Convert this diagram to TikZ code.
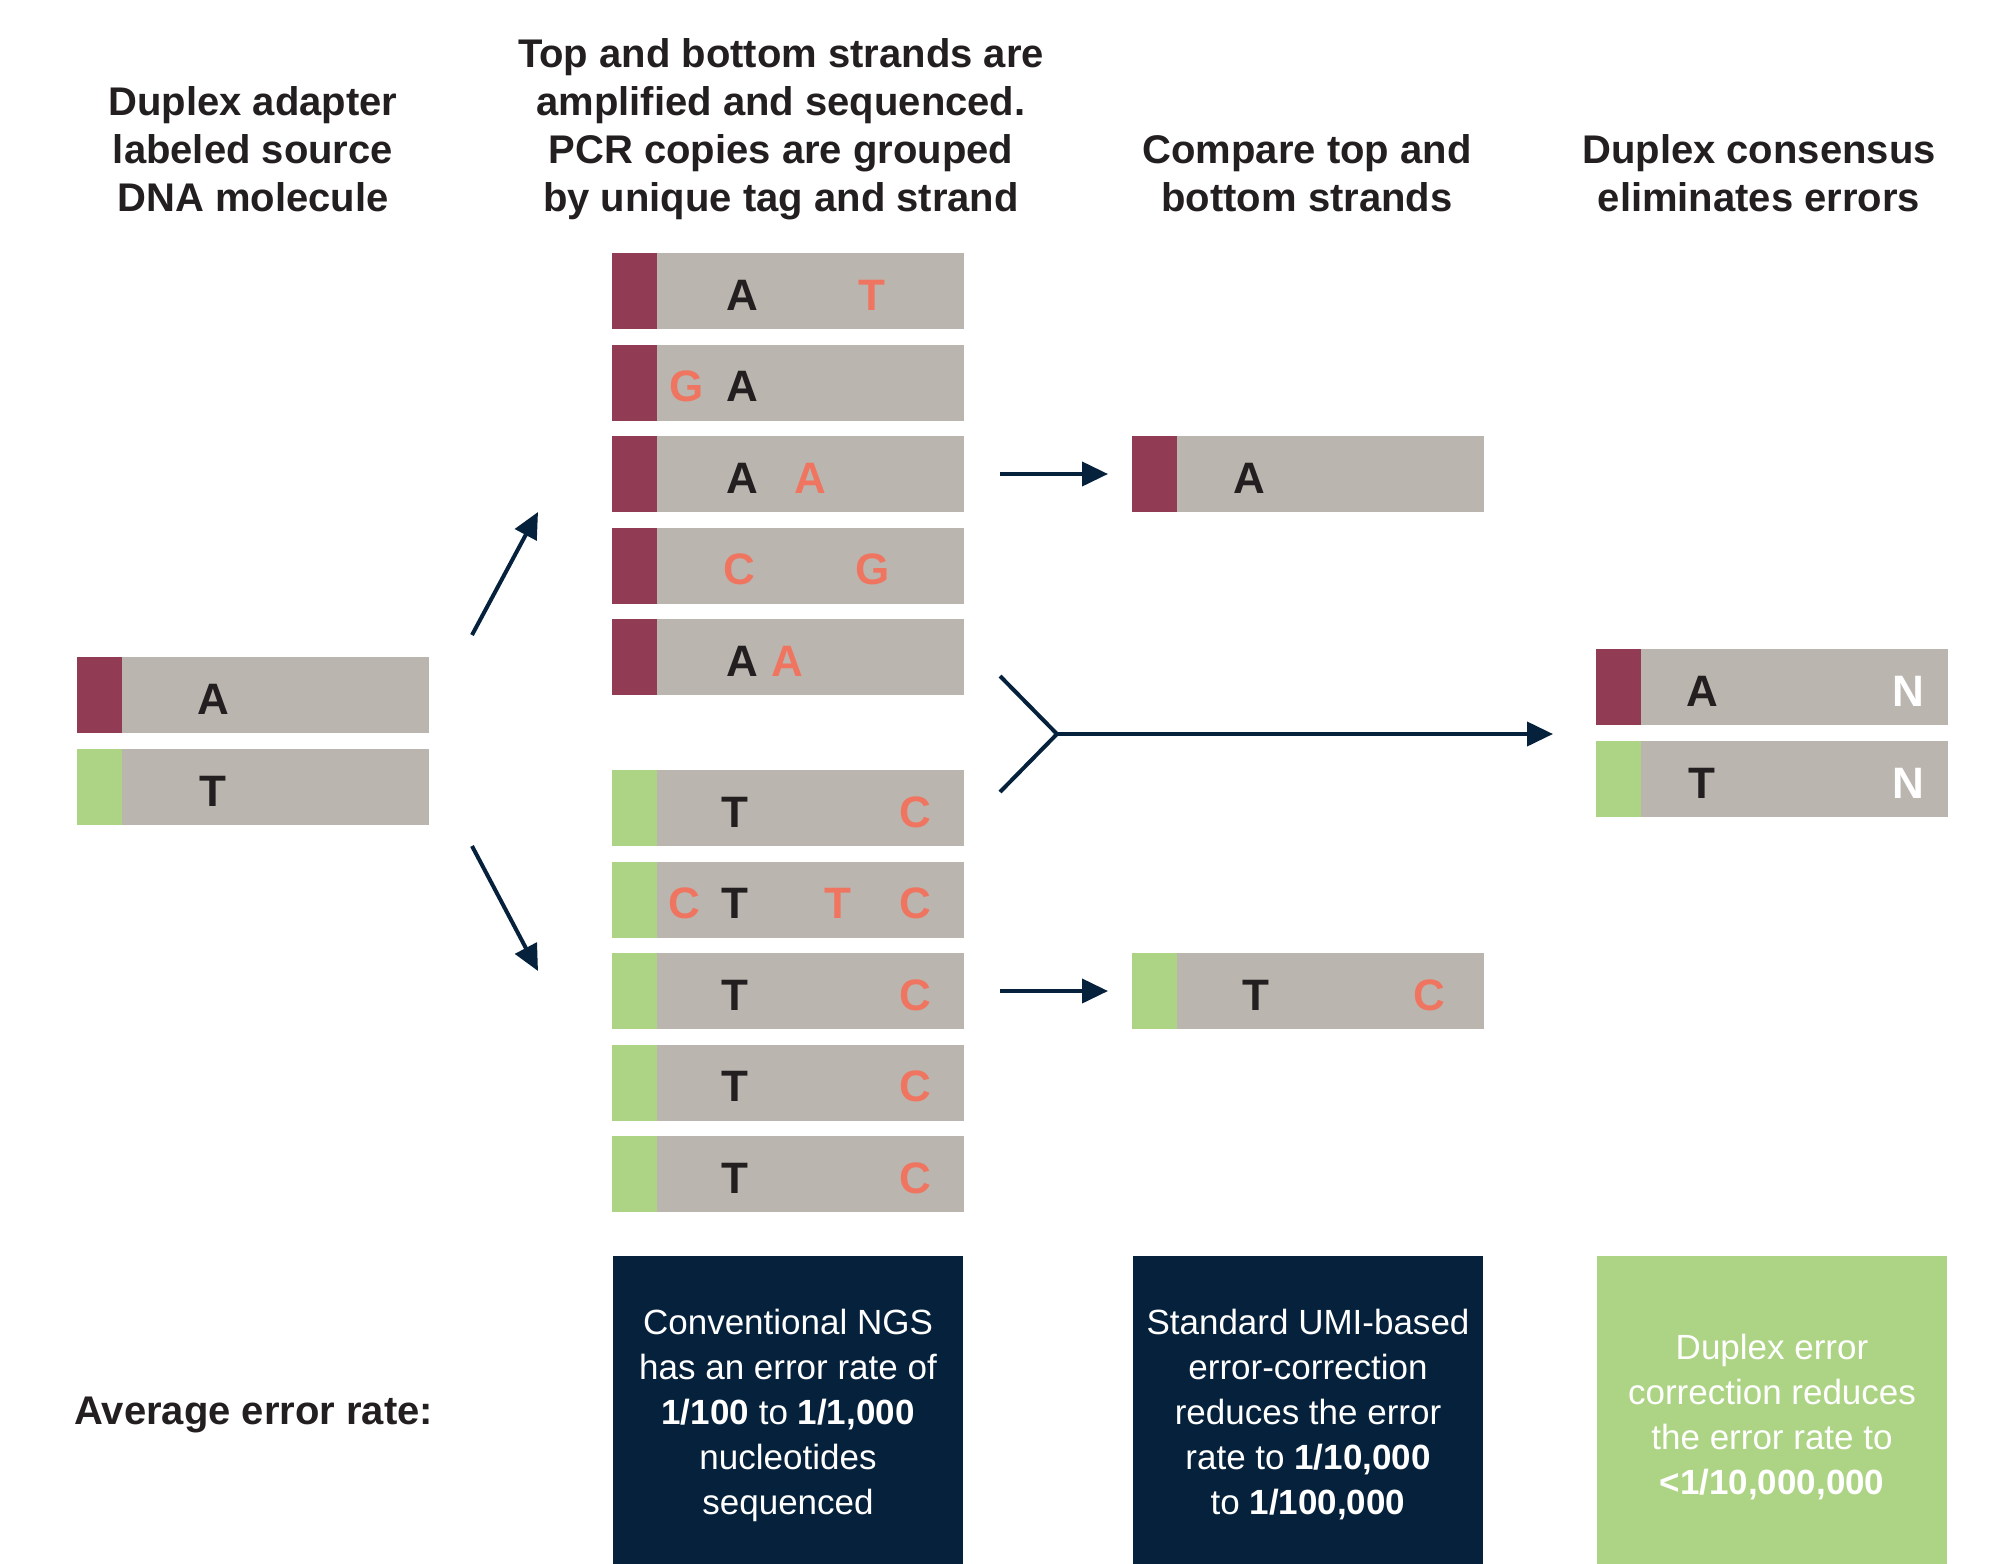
\documentclass[tikz,border=0pt]{standalone}
\usepackage{fontspec}
\setmainfont{Liberation Sans}
\usetikzlibrary{arrows.meta}
\definecolor{tagred}{HTML}{913B55}
\definecolor{taggreen}{HTML}{ADD484}
\definecolor{strandgray}{HTML}{BAB6AF}
\definecolor{errred}{HTML}{F07560}
\definecolor{navy}{HTML}{06213B}
\definecolor{ink}{HTML}{231F20}
\tikzset{
  barbox/.style={fill=strandgray, draw=none, inner sep=0pt, minimum width=176pt, minimum height=38pt, anchor=north west},
  tagbox/.style={draw=none, inner sep=0pt, minimum width=22.5pt, minimum height=38pt, anchor=north west},
  nuc/.style={inner sep=0pt, font=\fontsize{22}{22}\selectfont\bfseries, text=ink, yshift=-2pt},
  nucerr/.style={nuc, text=errred},
  nucn/.style={nuc, text=white},
  header/.style={inner sep=0pt, align=center, anchor=north, font=\fontsize{20}{24}\selectfont\bfseries, text=ink},
  infobox/.style={draw=none, inner sep=0pt, minimum width=175pt, minimum height=160pt, anchor=north west},
  infotext/.style={inner sep=0pt, align=center, text=white, font=\fontsize{17.5}{22.5}\selectfont},
  flow/.style={draw=navy, line width=2pt, -{Triangle[length=13pt,width=12pt]}},
  flowline/.style={draw=navy, line width=2pt},
}
\newcommand\strandbar[4]{%
  \node[barbox] (#1) at (#2,#3) {};
  \node[tagbox, fill=#4] (#1tag) at (#1.north west) {};
}
\begin{document}
\begin{tikzpicture}[x=0.5pt,y=-0.5pt]
\useasboundingbox (0,0) rectangle (1990,1563);

% headers
\node[header] (h1) at (253,86) {Duplex adapter\\labeled source\\DNA molecule};
\node[header] (h2) at (781,38) {Top and bottom strands are\\amplified and sequenced.\\PCR copies are grouped\\by unique tag and strand};
\node[header] (h3) at (1307,134) {Compare top and\\bottom strands};
\node[header] (h4) at (1759,134) {Duplex consensus\\eliminates errors};

% source molecule
\strandbar{s1}{77}{657}{tagred}
\strandbar{s2}{77}{749}{taggreen}
\node[nuc] (s1a) at (213,695) {A};
\node[nuc] (s2t) at (213,787) {T};

% top strand copies
\strandbar{t1}{612}{253}{tagred}
\strandbar{t2}{612}{344.5}{tagred}
\strandbar{t3}{612}{436}{tagred}
\strandbar{t4}{612}{527.5}{tagred}
\strandbar{t5}{612}{619}{tagred}
\node[nuc] (t1a) at (742,291) {A};
\node[nucerr] (t1b) at (872,291) {T};
\node[nucerr] (t2a) at (687,382.5) {G};
\node[nuc] (t2b) at (742,382.5) {A};
\node[nuc] (t3a) at (742,474) {A};
\node[nucerr] (t3b) at (810,474) {A};
\node[nucerr] (t4a) at (739,565.5) {C};
\node[nucerr] (t4b) at (873,565.5) {G};
\node[nuc] (t5a) at (742,657) {A};
\node[nucerr] (t5b) at (787,657) {A};

% bottom strand copies
\strandbar{b1}{612}{770}{taggreen}
\strandbar{b2}{612}{861.5}{taggreen}
\strandbar{b3}{612}{953}{taggreen}
\strandbar{b4}{612}{1044.5}{taggreen}
\strandbar{b5}{612}{1136}{taggreen}
\node[nuc] (b1a) at (735,808) {T};
\node[nucerr] (b1b) at (915,808) {C};
\node[nucerr] (b2a) at (684,899.5) {C};
\node[nuc] (b2b) at (735,899.5) {T};
\node[nucerr] (b2c) at (838,899.5) {T};
\node[nucerr] (b2d) at (915,899.5) {C};
\node[nuc] (b3a) at (735,991) {T};
\node[nucerr] (b3b) at (915,991) {C};
\node[nuc] (b4a) at (735,1082.5) {T};
\node[nucerr] (b4b) at (915,1082.5) {C};
\node[nuc] (b5a) at (735,1174) {T};
\node[nucerr] (b5b) at (915,1174) {C};

% single-strand consensus
\strandbar{c1}{1132}{436}{tagred}
\strandbar{c2}{1132}{953}{taggreen}
\node[nuc] (c1a) at (1249,474) {A};
\node[nuc] (c2a) at (1256,991) {T};
\node[nucerr] (c2b) at (1429,991) {C};

% duplex consensus
\strandbar{d1}{1596}{649}{tagred}
\strandbar{d2}{1596}{741}{taggreen}
\node[nuc] (d1a) at (1702,687) {A};
\node[nucn] (d1b) at (1908,687) {N};
\node[nuc] (d2a) at (1702,779) {T};
\node[nucn] (d2b) at (1908,779) {N};

% arrows
\coordinate (u0) at (472,635);
\coordinate (u1) at (538,512);
\coordinate (l0) at (472,846);
\coordinate (l1) at (538,971);
\draw[flow] (u0) -- (u1);
\draw[flow] (l0) -- (l1);
\coordinate (m0) at (1000,474);
\coordinate (m1) at (1108,474);
\coordinate (n0) at (1000,991);
\coordinate (n1) at (1108,991);
\draw[flow] (m0) -- (m1);
\draw[flow] (n0) -- (n1);
\coordinate (y0) at (1000,676);
\coordinate (y1) at (1000,792);
\coordinate (yj) at (1057,734);
\coordinate (ye) at (1553,734);
\draw[flowline] (y0) -- (yj) -- (y1);
\draw[flow] (yj) -- (ye);

% bottom row
\node[inner sep=0pt, anchor=base west, font=\fontsize{20}{24}\selectfont\bfseries, text=ink] (avg) at (74,1424) {Average error rate:};
\node[infobox, fill=navy] (e1) at (613,1256) {};
\node[infobox, fill=navy] (e2) at (1133,1256) {};
\node[infobox, fill=taggreen] (e3) at (1597,1256) {};
\node[infotext] (e1t) at (788,1415) {Conventional NGS\\has an error rate of\\\textbf{1/100} to \textbf{1/1,000}\\nucleotides\\sequenced};
\node[infotext] (e2t) at (1308,1415) {Standard UMI-based\\error-correction\\reduces the error\\rate to \textbf{1/10,000}\\to \textbf{1/100,000}};
\node[infotext] (e3t) at (1772,1417) {Duplex error\\correction reduces\\the error rate to\\\textbf{<1/10,000,000}};
\end{tikzpicture}
\end{document}
